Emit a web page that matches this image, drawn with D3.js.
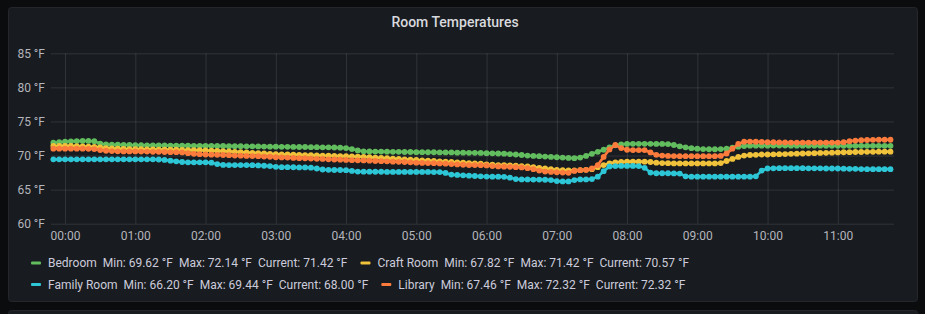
<!DOCTYPE html>
<html>
<head>
<meta charset="utf-8">
<style>
    html, body {
        margin: 0;
        padding: 0;
        background: #0b0c0e;
    }

    svg {
        display: block;
        font-family: Roboto, "Noto Sans", sans-serif;
    }
</style>
</head>
<body>
<svg width="925" height="314"></svg>
<script src="https://cdn.jsdelivr.net/npm/d3@7"></script>
<script>
    // readings every 5 minutes, first one at 23:50 the day before, last at 11:45
    // (each row after the first is one hour: :00 ... :55)
    const bedroom = [
        71.88, 71.95,
        72.02, 72.08, 72.12, 72.14, 72.14, 72.10, 71.75, 71.62, 71.58, 71.58, 71.55, 71.55,
        71.52, 71.52, 71.50, 71.50, 71.48, 71.48, 71.46, 71.46, 71.45, 71.45, 71.43, 71.42,
        71.42, 71.42, 71.40, 71.40, 71.38, 71.38, 71.36, 71.35, 71.35, 71.33, 71.32, 71.30,
        71.30, 71.28, 71.28, 71.26, 71.25, 71.25, 71.22, 71.22, 71.20, 71.20, 71.18, 71.15,
        71.10, 70.95, 70.75, 70.62, 70.60, 70.58, 70.58, 70.56, 70.55, 70.55, 70.52, 70.52,
        70.50, 70.50, 70.48, 70.48, 70.46, 70.45, 70.45, 70.42, 70.42, 70.40, 70.40, 70.38,
        70.35, 70.33, 70.30, 70.28, 70.22, 70.15, 70.08, 70.00, 69.95, 69.90, 69.85, 69.80,
        69.75, 69.70, 69.65, 69.62, 69.70, 69.95, 70.25, 70.55, 70.85, 71.20, 71.50, 71.65,
        71.70, 71.72, 71.72, 71.72, 71.72, 71.70, 71.70, 71.68, 71.55, 71.35, 71.20, 71.08,
        71.00, 70.95, 70.92, 70.92, 70.95, 71.00, 71.15, 71.30, 71.40, 71.45, 71.45, 71.45,
        71.45, 71.46, 71.46, 71.46, 71.45, 71.45, 71.45, 71.44, 71.44, 71.44, 71.43, 71.43,
        71.43, 71.43, 71.42, 71.42, 71.42, 71.42, 71.42, 71.42, 71.42, 71.42
    ];

    const craftRoom = [
        71.40, 71.42,
        71.42, 71.40, 71.38, 71.35, 71.32, 71.28, 71.20, 71.10, 71.05, 71.00, 70.98, 70.95,
        70.95, 70.92, 70.90, 70.90, 70.88, 70.88, 70.85, 70.85, 70.82, 70.80, 70.80, 70.78,
        70.75, 70.72, 70.68, 70.65, 70.60, 70.55, 70.50, 70.45, 70.40, 70.35, 70.30, 70.25,
        70.20, 70.17, 70.15, 70.12, 70.10, 70.07, 70.05, 70.02, 70.00, 69.97, 69.95, 69.92,
        69.90, 69.87, 69.84, 69.80, 69.75, 69.70, 69.65, 69.60, 69.55, 69.50, 69.45, 69.40,
        69.35, 69.30, 69.25, 69.20, 69.15, 69.10, 69.05, 69.00, 68.95, 68.90, 68.85, 68.80,
        68.70, 68.65, 68.60, 68.60, 68.55, 68.50, 68.45, 68.40, 68.30, 68.20, 68.10, 68.00,
        67.90, 67.85, 67.82, 67.82, 67.85, 67.90, 68.00, 68.30, 68.60, 68.85, 69.00, 69.05,
        69.10, 69.10, 69.10, 69.10, 69.05, 68.95, 68.90, 68.88, 68.85, 68.85, 68.85, 68.85,
        68.85, 68.85, 68.85, 68.85, 68.90, 69.20, 69.50, 69.80, 70.00, 70.08, 70.10, 70.15,
        70.15, 70.18, 70.20, 70.22, 70.25, 70.28, 70.30, 70.32, 70.35, 70.38, 70.40, 70.42,
        70.45, 70.48, 70.50, 70.52, 70.52, 70.55, 70.55, 70.57, 70.57, 70.57
    ];

    const familyRoom = [
        69.44, 69.44,
        69.44, 69.44, 69.44, 69.44, 69.44, 69.44, 69.44, 69.44, 69.44, 69.44, 69.44, 69.44,
        69.44, 69.44, 69.44, 69.44, 69.42, 69.35, 69.25, 69.15, 69.05, 69.00, 69.00, 69.00,
        69.00, 68.95, 68.75, 68.62, 68.60, 68.60, 68.60, 68.60, 68.58, 68.55, 68.50, 68.45,
        68.35, 68.30, 68.30, 68.28, 68.25, 68.25, 68.22, 68.10, 67.95, 67.90, 67.88, 67.88,
        67.85, 67.75, 67.65, 67.63, 67.63, 67.62, 67.62, 67.60, 67.60, 67.60, 67.60, 67.60,
        67.60, 67.60, 67.60, 67.58, 67.58, 67.45, 67.20, 67.15, 67.10, 67.05, 67.00, 66.95,
        66.92, 66.90, 66.90, 66.88, 66.75, 66.55, 66.50, 66.50, 66.48, 66.48, 66.45, 66.40,
        66.25, 66.20, 66.20, 66.40, 66.50, 66.50, 66.55, 66.90, 67.70, 68.40, 68.45, 68.48,
        68.48, 68.48, 68.45, 68.20, 67.50, 67.40, 67.40, 67.40, 67.38, 67.35, 66.95, 66.90,
        66.90, 66.90, 66.90, 66.90, 66.90, 66.90, 66.90, 66.90, 66.90, 66.90, 66.95, 67.80,
        68.10, 68.13, 68.15, 68.15, 68.15, 68.15, 68.15, 68.13, 68.12, 68.12, 68.10, 68.10,
        68.10, 68.08, 68.05, 68.05, 68.02, 68.00, 68.00, 68.00, 68.00, 68.00
    ];

    const library = [
        71.00, 71.00,
        71.00, 71.00, 71.00, 71.00, 70.98, 70.95, 70.80, 70.70, 70.65, 70.62, 70.60, 70.60,
        70.60, 70.58, 70.58, 70.55, 70.55, 70.52, 70.50, 70.50, 70.45, 70.35, 70.25, 70.20,
        70.15, 70.12, 70.10, 70.08, 70.05, 70.00, 69.98, 69.95, 69.92, 69.90, 69.85, 69.82,
        69.75, 69.72, 69.70, 69.65, 69.62, 69.60, 69.55, 69.52, 69.50, 69.45, 69.42, 69.40,
        69.35, 69.32, 69.30, 69.28, 69.25, 69.20, 69.18, 69.15, 69.10, 69.08, 69.05, 69.00,
        68.95, 68.92, 68.90, 68.88, 68.85, 68.80, 68.75, 68.70, 68.65, 68.60, 68.60, 68.58,
        68.55, 68.45, 68.40, 68.36, 68.35, 68.30, 68.25, 68.15, 68.00, 67.80, 67.65, 67.60,
        67.55, 67.50, 67.46, 67.75, 67.85, 67.90, 68.10, 68.60, 69.80, 70.90, 71.55, 71.10,
        70.85, 70.80, 70.80, 70.80, 70.45, 70.10, 70.00, 69.95, 69.92, 69.90, 69.90, 69.90,
        69.90, 69.90, 69.90, 69.90, 69.95, 70.30, 71.00, 71.70, 72.02, 72.05, 72.02, 72.00,
        71.95, 71.95, 71.92, 71.92, 71.90, 71.90, 71.90, 71.90, 71.90, 71.90, 71.90, 71.90,
        71.90, 71.95, 72.10, 72.20, 72.25, 72.28, 72.30, 72.32, 72.32, 72.32
    ];

    const seriesNames = ['Bedroom', 'Craft Room', 'Family Room', 'Library'];
    const seriesColors = ['#62bd5e', '#f0c23b', '#2dc6d6', '#fa7b3c'];
    const yTicks = [60, 65, 70, 75, 80, 85];

    const firstReading = new Date(2021, 0, 0, 23, 50);
    const stepMinutes = 5;

    const svg = d3.select('svg');
    const plot = {left: 51, right: 894, top: 53.3, bottom: 223.7};

    // panels
    svg.append('rect')
        .attr('x', 8.5).attr('y', 7.5)
        .attr('width', 909).attr('height', 294)
        .attr('rx', 3)
        .attr('fill', '#181b1f')
        .attr('stroke', '#24262b');
    svg.append('rect')
        .attr('x', 8.5).attr('y', 310.5)
        .attr('width', 909).attr('height', 40)
        .attr('rx', 3)
        .attr('fill', '#181b1f')
        .attr('stroke', '#24262b');

    svg.append('text')
        .attr('x', 455).attr('y', 22)
        .attr('dy', '0.35em')
        .attr('text-anchor', 'middle')
        .attr('fill', '#d8d9de')
        .attr('font-size', 14)
        .attr('font-weight', 500)
        .text('Room Temperatures');

    const x = d3.scaleTime()
        .domain([new Date(2021, 0, 0, 23, 48), new Date(2021, 0, 1, 11, 48)])
        .range([plot.left, plot.right]);

    const y = d3.scaleLinear()
        .domain([60, 85])
        .range([plot.bottom, plot.top]);

    const gridColor = 'rgba(220,225,235,0.13)';
    const labelColor = '#b4b5bd';

    const yAxis = svg.append('g')
        .attr('transform', `translate(${plot.left},0)`)
        .call(d3.axisLeft(y)
            .tickValues(yTicks)
            .tickSize(-(plot.right - plot.left))
            .tickPadding(6)
            .tickFormat(d => d + ' °F'));

    const xAxis = svg.append('g')
        .attr('transform', `translate(0,${plot.bottom})`)
        .call(d3.axisBottom(x)
            .ticks(d3.timeHour.every(1))
            .tickSize(-(plot.bottom - plot.top))
            .tickPadding(8)
            .tickFormat(d3.timeFormat('%H:%M')));

    [yAxis, xAxis].forEach(g => {
        g.select('.domain').remove();
        g.selectAll('.tick line').attr('stroke', gridColor);
        g.selectAll('.tick text')
            .attr('fill', labelColor)
            .attr('font-size', 12)
            .attr('font-family', 'Roboto, "Noto Sans", sans-serif');
    });

    const allSeries = [bedroom, craftRoom, familyRoom, library].map((values, i) => ({
        name: seriesNames[i],
        color: seriesColors[i],
        points: values.map((v, j) => ({
            time: d3.timeMinute.offset(firstReading, j * stepMinutes),
            value: v
        })),
        values
    }));

    const line = d3.line()
        .x(d => x(d.time))
        .y(d => y(d.value));

    allSeries.forEach(s => {
        const g = svg.append('g');
        g.append('path')
            .datum(s.points)
            .attr('d', line)
            .attr('fill', 'none')
            .attr('stroke', s.color)
            .attr('stroke-width', 2.6);
        g.selectAll('circle')
            .data(s.points)
            .enter()
            .append('circle')
            .attr('cx', d => x(d.time))
            .attr('cy', d => y(d.value))
            .attr('r', 2.9)
            .attr('fill', s.color);
    });

    // legend
    const fmt = v => v.toFixed(2) + ' °F';
    const legendRows = [[0, 1], [2, 3]];
    const legendY = [263, 284.5];
    const gap = 6;

    legendRows.forEach((row, r) => {
        let cx = 31;
        row.forEach(i => {
            const s = allSeries[i];
            svg.append('rect')
                .attr('x', cx).attr('y', legendY[r] - 1.5)
                .attr('width', 10).attr('height', 3)
                .attr('rx', 1)
                .attr('fill', s.color);
            const t = svg.append('text')
                .attr('x', cx + 17)
                .attr('y', legendY[r])
                .attr('dy', '0.35em')
                .attr('fill', '#ccccdc')
                .attr('font-size', 12);
            const parts = [
                s.name,
                'Min: ' + fmt(d3.min(s.values)),
                'Max: ' + fmt(d3.max(s.values)),
                'Current: ' + fmt(s.values[s.values.length - 1])
            ];
            parts.forEach((p, k) => {
                t.append('tspan')
                    .attr('dx', k === 0 ? 0 : gap)
                    .text(p);
            });
            cx = cx + 17 + t.node().getComputedTextLength() + gap * 3 + 13;
        });
    });
</script>
</body>
</html>
